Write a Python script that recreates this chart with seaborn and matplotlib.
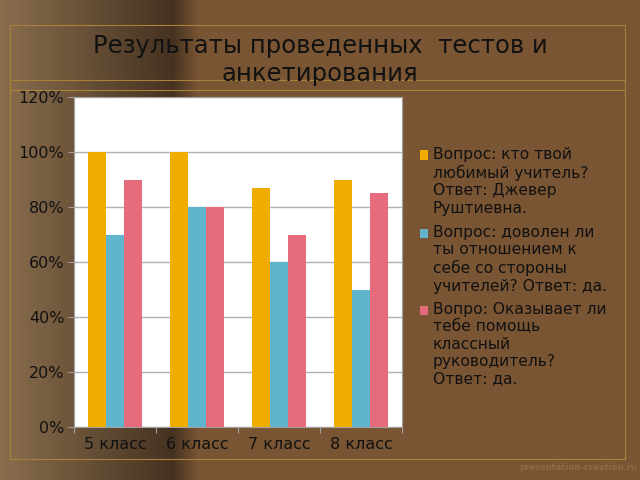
import numpy as np
import pandas as pd
import matplotlib
matplotlib.use("Agg")
import matplotlib.pyplot as plt
import seaborn as sns
from matplotlib.patches import Rectangle
from matplotlib.ticker import PercentFormatter, FixedLocator

# === DATA ===
classes = ["5 класс", "6 класс", "7 класс", "8 класс"]
q1 = [1.00, 1.00, 0.87, 0.90]
q2 = [0.70, 0.80, 0.60, 0.50]
q3 = [0.90, 0.80, 0.70, 0.85]
series_names = [
    "Вопрос: кто твой\nлюбимый учитель?\nОтвет: Джевер\nРуштиевна.",
    "Вопрос: доволен ли\nты отношением к\nсебе со стороны\nучителей? Ответ: да.",
    "Вопро: Оказывает ли\nтебе помощь\nклассный\nруководитель?\nОтвет: да.",
]
colors = ["#F0AD00", "#60B5CC", "#E66C7D"]

df = pd.DataFrame({
    "class": classes * 3,
    "value": q1 + q2 + q3,
    "series": [series_names[0]] * 4 + [series_names[1]] * 4 + [series_names[2]] * 4,
})

sns.set_theme(style="white")
plt.rcParams["font.family"] = ["DejaVu Sans"]

BG = "#7A5533"
GOLD = "#A8823A"
W, H = 640, 480
fig = plt.figure(figsize=(6.4, 4.8), dpi=100, facecolor=BG)

# === BACKGROUND (slide template) ===
bg = fig.add_axes([0, 0, 1, 1], zorder=-10)
xs = np.linspace(0, 1, 640)
base = np.array([0x7A, 0x55, 0x33]) / 255
light = np.array([0x8A, 0x6E, 0x4E]) / 255
dark = np.array([0x45, 0x32, 0x20]) / 255
t = np.clip(xs / 0.27, 0, 1)[:, None]
img = light[None, :] * (1 - t) + dark[None, :] * t
u = np.clip((xs - 0.27) / 0.04, 0, 1)[:, None]
img = img * (1 - u) + base[None, :] * u
bg.imshow(img[None, :, :], aspect="auto", extent=[0, 1, 0, 1])
x0, x1 = 10 / W, 625 / W
bg.plot([x0, x1, x1, x0, x0], [1 - 459 / H, 1 - 459 / H, 1 - 25 / H, 1 - 25 / H, 1 - 459 / H],
        color=GOLD, lw=0.8)
bg.plot([x0, x1], [1 - 80 / H] * 2, color=GOLD, lw=0.8)
bg.plot([x0, x1], [1 - 90 / H] * 2, color=GOLD, lw=0.8)
bg.set_xlim(0, 1)
bg.set_ylim(0, 1)
bg.axis("off")
fig.text(578 / W, 1 - 467 / H, "presentation-creation.ru", ha="center", va="center",
         fontsize=6, color="#8E6A45", fontweight="bold")

# === BARS ===
ax = fig.add_axes([74 / W, 1 - 427 / H, 328 / W, 330 / H])
sns.barplot(data=df, x="class", y="value", hue="series", palette=colors,
            width=0.66, saturation=1, linewidth=0, ax=ax, zorder=3)
ax.set_facecolor("white")
ax.set_ylim(0, 1.2)
ax.set_yticks(np.arange(0, 1.21, 0.2))
ax.yaxis.set_major_formatter(PercentFormatter(1.0, decimals=0))
ax.grid(axis="y", color="#B0B0B0", lw=1, zorder=0)
ax.set_axisbelow(True)
ax.set_xlabel("")
ax.set_ylabel("")
for s in ax.spines.values():
    s.set_color("#A0A0A0")
    s.set_linewidth(0.8)
ax.xaxis.set_minor_locator(FixedLocator([-0.5, 0.5, 1.5, 2.5, 3.5]))
ax.tick_params(axis="x", which="major", length=0, pad=7, labelsize=11.5, colors="#111111")
ax.tick_params(axis="x", which="minor", length=4, width=0.8, color="#A0A0A0", direction="out",
               bottom=True)
ax.tick_params(axis="y", length=4, width=0.8, color="#A0A0A0", direction="out", left=True,
               pad=3, labelsize=11.5, labelcolor="#111111")
ax.legend_.remove()

# === LEGEND (swatch next to the first line of each label) ===
first_line_y = [155, 233, 310]
for name, c, yl in zip(series_names, colors, first_line_y):
    fig.patches.append(Rectangle((420 / W, 1 - (yl + 4.5) / H), 8 / W, 9 / H,
                                 transform=fig.transFigure, facecolor=c,
                                 edgecolor="none", figure=fig))
    fig.text(433 / W, 1 - (yl - 8) / H, name, ha="left", va="top", fontsize=11.2,
             color="#111111", linespacing=1.2)

fig.text(0.5, 1 - 60 / H, "Результаты проведенных  тестов и\nанкетирования",
         ha="center", va="center", fontsize=17.5, color="#111111", linespacing=1.2)

plt.savefig("out.png", dpi=100, facecolor=BG)
